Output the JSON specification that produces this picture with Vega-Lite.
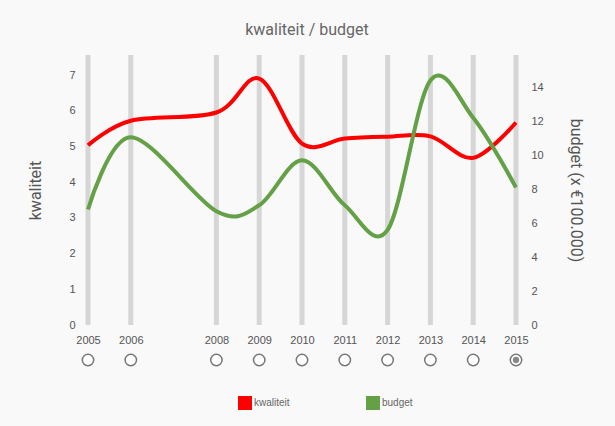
{
  "$schema": "https://vega.github.io/schema/vega-lite/v6.json",
  "width": 428,
  "height": 270,
  "autosize": {"type": "none"},
  "padding": {"left": 88, "top": 55, "right": 99, "bottom": 101},
  "background": "#f9f9f9",
  "config": {"view": {"stroke": null}, "font": "Liberation Sans"},
  "title": {"text": "kwaliteit / budget", "anchor": "middle", "offset": 15, "fontSize": 16, "font": "Roboto", "fontWeight": "normal", "color": "#666666", "dx": 5},
  "data": {"values": [
    {"year": 2005, "kwaliteit": 5.03, "budget": 6.8},
    {"year": 2006, "kwaliteit": 5.72, "budget": 11.05},
    {"year": 2008, "kwaliteit": 5.95, "budget": 6.7},
    {"year": 2009, "kwaliteit": 6.9, "budget": 7.05},
    {"year": 2010, "kwaliteit": 5.08, "budget": 9.7},
    {"year": 2011, "kwaliteit": 5.22, "budget": 7.05},
    {"year": 2012, "kwaliteit": 5.27, "budget": 5.6},
    {"year": 2013, "kwaliteit": 5.28, "budget": 14.4},
    {"year": 2014, "kwaliteit": 4.68, "budget": 12.2},
    {"year": 2015, "kwaliteit": 5.67, "budget": 8.1}
  ]},
  "encoding": {
    "x": {"field": "year", "type": "quantitative",
      "scale": {"domain": [2005, 2015], "nice": false, "zero": false},
      "axis": {"values": [2005, 2006, 2008, 2009, 2010, 2011, 2012, 2013, 2014, 2015], "format": "d", "title": null, "grid": false, "ticks": false, "domain": false, "labelPadding": 9, "labelFontSize": 11, "labelColor": "#555555", "labelFlush": false, "labelOverlap": false}}
  },
  "layer": [
    {
      "layer": [
        {"mark": {"type": "rule", "strokeWidth": 5, "color": "#d6d6d6"}, "encoding": {}},
        {
          "mark": {"type": "line", "interpolate": "cardinal", "strokeWidth": 4},
          "encoding": {
            "y": {"field": "kwaliteit", "type": "quantitative",
              "scale": {"domain": [0, 7.56], "nice": false},
              "axis": {"orient": "left", "values": [0, 1, 2, 3, 4, 5, 6, 7], "tickCount": 8, "labelOverlap": false, "title": "kwaliteit", "grid": false, "ticks": false, "domain": false, "labelPadding": 13, "labelFontSize": 11, "labelColor": "#555555", "titleFontSize": 16, "titleFont": "Roboto", "titleFontWeight": "normal", "titleColor": "#555555", "titlePadding": 25}},
            "color": {"datum": "kwaliteit"}
          }
        },
        {
          "mark": {"type": "point", "shape": "circle", "size": 130, "strokeWidth": 1.5, "filled": false, "stroke": "#777777", "fill": "#ffffff", "fillOpacity": 1, "opacity": 1},
          "encoding": {"y": {"datum": -0.98, "type": "quantitative", "scale": {"domain": [0, 7.56], "nice": false},
            "axis": {"orient": "left", "values": [0, 1, 2, 3, 4, 5, 6, 7], "tickCount": 8, "labelOverlap": false, "title": "kwaliteit", "grid": false, "ticks": false, "domain": false, "labelPadding": 13, "labelFontSize": 11, "labelColor": "#555555", "titleFontSize": 16, "titleFont": "Roboto", "titleFontWeight": "normal", "titleColor": "#555555", "titlePadding": 25}}}
        },
        {
          "transform": [{"filter": "datum.year == 2015"}],
          "mark": {"type": "point", "shape": "circle", "size": 40, "filled": true, "fill": "#888888", "strokeWidth": 0, "opacity": 1},
          "encoding": {"y": {"datum": -0.98, "type": "quantitative", "scale": {"domain": [0, 7.56], "nice": false},
            "axis": {"orient": "left", "values": [0, 1, 2, 3, 4, 5, 6, 7], "tickCount": 8, "labelOverlap": false, "title": "kwaliteit", "grid": false, "ticks": false, "domain": false, "labelPadding": 13, "labelFontSize": 11, "labelColor": "#555555", "titleFontSize": 16, "titleFont": "Roboto", "titleFontWeight": "normal", "titleColor": "#555555", "titlePadding": 25}}}
        }
      ]
    },
    {
      "mark": {"type": "line", "interpolate": "cardinal", "strokeWidth": 4},
      "encoding": {
        "y": {"field": "budget", "type": "quantitative",
          "scale": {"domain": [0, 15.9], "nice": false},
          "axis": {"orient": "right", "values": [0, 2, 4, 6, 8, 10, 12, 14], "labelOverlap": false, "title": "budget (x €100.000)", "grid": false, "ticks": false, "domain": false, "labelPadding": 15, "labelFontSize": 11, "labelColor": "#555555", "titleFontSize": 16, "titleFont": "Roboto", "titleFontWeight": "normal", "titleColor": "#555555", "titlePadding": 24}},
        "color": {"datum": "budget",
          "scale": {"domain": ["kwaliteit", "budget"], "range": ["#ff0000", "#64a046"]},
          "legend": {"title": null, "orient": "none", "legendX": 150, "legendY": 341, "direction": "horizontal", "columnPadding": 76, "symbolType": "square", "symbolSize": 196, "labelFontSize": 10, "labelColor": "#666666", "labelOffset": 2,
            "encode": {"symbols": {"update": {"fill": {"scale": "color", "field": "value"}, "strokeWidth": {"value": 0}}}}}
        }
      }
    }
  ],
  "resolve": {"scale": {"y": "independent"}}
}
